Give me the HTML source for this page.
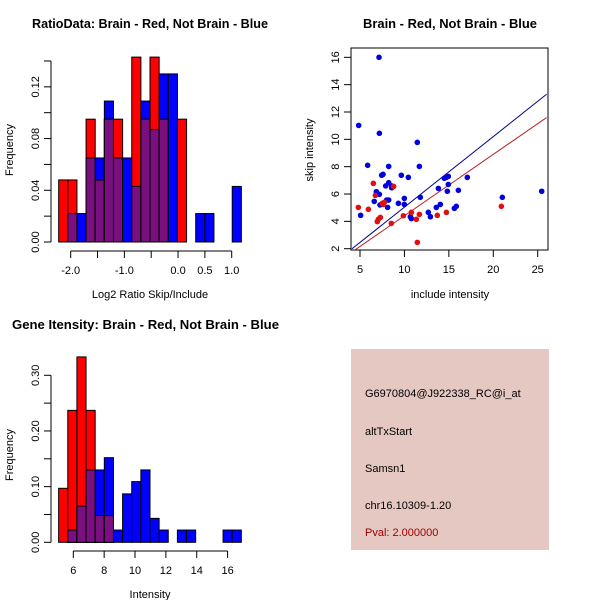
<!DOCTYPE html>
<html><head><meta charset="utf-8"><style>
body{margin:0;background:#fff}
svg{font-family:"Liberation Sans",sans-serif}
</style></head><body>
<svg id="s" width="600" height="600" xmlns="http://www.w3.org/2000/svg">
<rect width="600" height="600" fill="#fff"/>
<text x="32" y="28" font-size="12.5" font-weight="bold" textLength="236" lengthAdjust="spacingAndGlyphs">RatioData: Brain - Red, Not Brain - Blue</text>
<text x="363" y="28" font-size="12.5" font-weight="bold" textLength="174" lengthAdjust="spacingAndGlyphs">Brain - Red, Not Brain - Blue</text>
<text x="12" y="329" font-size="12.5" font-weight="bold" textLength="267" lengthAdjust="spacingAndGlyphs">Gene Itensity: Brain - Red, Not Brain - Blue</text>
<text x="150" y="298" font-size="11" text-anchor="middle">Log2 Ratio Skip/Include</text>
<text transform="translate(13,150) rotate(-90)" font-size="11" text-anchor="middle">Frequency</text>
<text x="450" y="298" font-size="11" text-anchor="middle">include intensity</text>
<text transform="translate(313,150) rotate(-90)" font-size="11" text-anchor="middle">skip intensity</text>
<text x="150" y="598" font-size="11" text-anchor="middle">Intensity</text>
<text transform="translate(13,455) rotate(-90)" font-size="11" text-anchor="middle">Frequency</text>
<g>
<rect x="351" y="349" width="198" height="201" fill="#e5c8c2"/>
<text x="365" y="397" font-size="11">G6970804@J922338_RC@i_at</text>
<text x="365" y="435" font-size="11">altTxStart</text>
<text x="365" y="472" font-size="11">Samsn1</text>
<text x="365" y="509" font-size="11">chr16.10309-1.20</text>
<text x="365" y="536" font-size="11" fill="#a00000">Pval: 2.000000</text>
</g>
</svg>
<script>
// Ratio histogram data
const ratioStart=-2.224, ratioWidth=0.1702;
const ratioRed=[0.048,0.048,0,0.095,0.048,0.095,0.095,0,0.143,0.095,0.143,0.095,0,0.095,0,0,0,0,0,0];
const ratioBlue=[0,0.022,0.022,0.065,0.065,0.109,0.065,0.065,0.043,0.109,0.087,0.130,0.130,0,0,0.022,0.022,0,0,0.043];
const ratioXTicks=[-2,-1.5,-1,-0.5,0,0.5,1];
const ratioXLabels=["-2.0","","-1.0","","0.0","0.5","1.0"];
const ratioYTicks=[0,0.02,0.04,0.06,0.08,0.10,0.12,0.14];
const ratioYLabels=["0.00","","0.04","","0.08","","0.12",""];
// Intensity histogram data
const intStart=5.05, intWidth=0.592;
const intRed=[0.097,0.237,0.333,0.237,0.048,0.048,0,0,0,0,0,0,0,0,0,0,0,0,0,0];
const intBlue=[0,0.022,0.065,0.130,0.130,0.152,0.022,0.087,0.109,0.130,0.043,0.022,0,0.022,0.022,0,0,0,0.022,0.022];
const intXTicks=[6,8,10,12,14,16];
const intYTicks=[0,0.05,0.10,0.15,0.20,0.25,0.30];
const intYLabels=["0.00","","0.10","","0.20","","0.30"];
// Scatter data
const blueX=[7.14,4.85,5.07,5.86,7.18,6.6,6.84,6.95,7.18,7.25,7.44,7.59,7.89,8.11,8.23,8.23,8.23,8.0,8.56,8.56,9.32,9.65,9.99,9.99,10.44,10.67,10.78,11.45,11.68,11.79,12.69,12.92,13.59,13.82,14.04,14.49,14.72,14.94,14.94,14.83,15.62,15.84,16.07,17.08,21.02,25.45];
const blueY=[16,11.02,4.44,8.1,10.44,5.46,6.17,6.0,5.98,5.2,7.37,7.44,6.59,5.02,5.56,8.02,6.83,5.56,6.59,6.46,5.32,7.37,5.68,5.24,7.22,4.34,4.2,9.78,8.02,5.76,4.66,4.34,5.02,6.41,5.24,7.15,7.22,7.29,6.7,6.2,4.95,5.1,6.27,7.22,5.76,6.2];
const redX=[4.81,5.94,6.5,6.73,6.95,7.06,7.29,7.51,7.63,7.74,8.79,8.53,9.88,10.78,11.34,11.45,11.68,13.7,14.72,20.91];
const redY=[5.02,4.88,6.78,5.9,3.98,4.15,4.29,5.32,5.24,5.39,6.56,3.85,4.41,4.66,4.15,2.46,4.51,4.44,4.66,5.1];
const blueLine=[-0.12,0.516];
const redLine=[-0.08,0.449];
const scXTicks=[5,10,15,20,25];
const scYTicks=[2,4,6,8,10,12,14,16];

const svg=document.getElementById('s');
const NS='http://www.w3.org/2000/svg';
function mk(tag,attrs,parent){const e=document.createElementNS(NS,tag);for(const k in attrs)e.setAttribute(k,attrs[k]);(parent||svg).appendChild(e);return e;}

function hist(name,start,width,red,blue,sx,sy,xt,xl,yt,yl,axY,axX){
  const g=mk('g',{});
  
  
  for(let i=0;i<blue.length;i++){
    const x0=sx(start+i*width),x1=sx(start+(i+1)*width);
    const b=blue[i],r=red[i],m=Math.min(b,r);
    if(b>0){const e=mk('rect',{x:x0,y:sy(b),width:x1-x0,height:sy(0)-sy(b),fill:'#0000ff',stroke:'#000','stroke-width':1},g);
      
      }
    if(r>0){const e=mk('rect',{x:x0,y:sy(r),width:x1-x0,height:sy(0)-sy(r),fill:'#ff0000',stroke:'#000','stroke-width':1},g);
      
      }
    if(m>0){const e=mk('rect',{x:x0,y:sy(m),width:x1-x0,height:sy(0)-sy(m),fill:'#7a0f80',stroke:'#000','stroke-width':1},g);
      
      }
  }
  axes(g,sx,sy,xt,xl,yt,yl,axY,axX);
}
function axes(g,sx,sy,xt,xl,yt,yl,axY,axX){
  const xa=mk('g',{},g);
  
  
  mk('line',{x1:sx(xt[0]),x2:sx(xt[xt.length-1]),y1:axY,y2:axY,stroke:'#000'},xa);
  xt.forEach((v,i)=>{mk('line',{x1:sx(v),x2:sx(v),y1:axY,y2:axY+7,stroke:'#000'},xa);
    if(xl[i]){const t=mk('text',{x:sx(v),y:axY+23,'font-size':11,'text-anchor':'middle'},xa);t.textContent=xl[i];
      
      }});
  const ya=mk('g',{},g);
  
  
  mk('line',{x1:axX,x2:axX,y1:sy(yt[0]),y2:sy(yt[yt.length-1]),stroke:'#000'},ya);
  yt.forEach((v,i)=>{mk('line',{x1:axX-7,x2:axX,y1:sy(v),y2:sy(v),stroke:'#000'},ya);
    if(yl[i]){const t=mk('text',{transform:`translate(${axX-12},${sy(v)}) rotate(-90)`,'font-size':11,'text-anchor':'middle'},ya);t.textContent=yl[i];
      
      }});
}
// ratio hist
hist('ratio-histogram',ratioStart,ratioWidth,ratioRed,ratioBlue,
  v=>70.7+(v+2)*53.67, v=>242-v*1293,
  ratioXTicks,ratioXLabels,ratioYTicks,ratioYLabels,251,51);
// intensity hist
hist('intensity-histogram',intStart,intWidth,intRed,intBlue,
  v=>73.3+(v-6)*15.43, v=>542.3-v*556.7,
  intXTicks,intXTicks.map(String),intYTicks,intYLabels,551,51);
// scatter
(function(){
  const sx=v=>360+(v-5)*8.885, sy=v=>248.7-(v-2)*13.67;
  const g=mk('g',{});
  
  
  const box=mk('rect',{x:351,y:48,width:197,height:202,fill:'none',stroke:'#000'},g);
  
  
  const clip=mk('clipPath',{id:'c'},g);mk('rect',{x:351,y:48,width:197,height:202},clip);
  const lx0=4.1,lx1=26;
  const bl=mk('line',{x1:sx(lx0),y1:sy(blueLine[0]+blueLine[1]*lx0),x2:sx(lx1),y2:sy(blueLine[0]+blueLine[1]*lx1),stroke:'#00008b','clip-path':'url(#c)'},g);
  
  
  const rl=mk('line',{x1:sx(lx0),y1:sy(redLine[0]+redLine[1]*lx0),x2:sx(lx1),y2:sy(redLine[0]+redLine[1]*lx1),stroke:'#b22222','clip-path':'url(#c)'},g);
  
  
  blueX.forEach((x,i)=>{const c=mk('circle',{cx:sx(x),cy:sy(blueY[i]),r:2.8,fill:'#0000e0'},g);
    
    });
  redX.forEach((x,i)=>{const c=mk('circle',{cx:sx(x),cy:sy(redY[i]),r:2.8,fill:'#e01010'},g);
    
    });
  axes(g,sx,sy,scXTicks,scXTicks.map(String),scYTicks,scYTicks.map(String),250,351);
})();
</script>
</body></html>
